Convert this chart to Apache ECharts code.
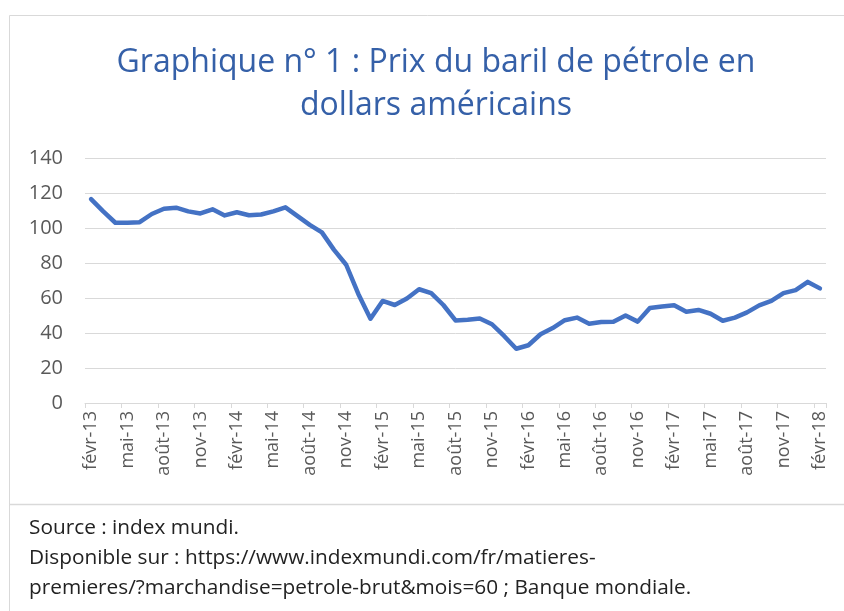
<!DOCTYPE html>
<html>
<head>
<meta charset="utf-8">
<script src="https://cdn.jsdelivr.net/npm/echarts@6/dist/echarts.min.js"></script>
<style>
html,body{margin:0;padding:0;background:#fff;}
#chart{width:844px;height:611px;}
</style>
</head>
<body>
<div id="chart"></div>
<script>
const categories = [
  'févr-13','mars-13','avr-13','mai-13','juin-13','juil-13','août-13','sept-13','oct-13','nov-13','déc-13',
  'janv-14','févr-14','mars-14','avr-14','mai-14','juin-14','juil-14','août-14','sept-14','oct-14','nov-14','déc-14',
  'janv-15','févr-15','mars-15','avr-15','mai-15','juin-15','juil-15','août-15','sept-15','oct-15','nov-15','déc-15',
  'janv-16','févr-16','mars-16','avr-16','mai-16','juin-16','juil-16','août-16','sept-16','oct-16','nov-16','déc-16',
  'janv-17','févr-17','mars-17','avr-17','mai-17','juin-17','juil-17','août-17','sept-17','oct-17','nov-17','déc-17',
  'janv-18','févr-18'
];
const prices = [
  116.5,109.5,103,103,103.3,108,111,111.6,109.5,108.3,110.7,
  107.2,109,107.3,107.7,109.5,111.8,106.8,101.8,97.5,87.5,79,62.3,
  48.2,58.3,56,59.7,65,62.8,56,47.2,47.6,48.3,45,38.3,
  31,33,39.3,42.8,47.3,48.8,45.3,46.3,46.4,50,46.5,54.3,
  55.2,55.8,52.2,53.2,51,47,48.8,51.8,55.8,58.3,62.8,64.5,
  69.2,65.5
];
const titleLines = ['Graphique n° 1 : Prix du baril de pétrole en', 'dollars américains'];
const sourceLines = [
  'Source : index mundi.',
  'Disponible sur : https://www.indexmundi.com/fr/matieres-',
  'premieres/?marchandise=petrole-brut&mois=60 ; Banque mondiale.'
];
const yTicks = {min: 0, max: 140, interval: 20};

const chart = echarts.init(document.getElementById('chart'), null, {renderer: 'canvas'});
const FONT = '"Open Sans", sans-serif';
chart.setOption({
  animation: false,
  backgroundColor: '#fff',
  title: {
    text: titleLines.join('\n'),
    left: 431,
    top: 36,
    textAlign: 'center',
    textStyle: {
      color: '#3560A8',
      fontFamily: FONT,
      fontWeight: 'normal',
      fontSize: 32,
      lineHeight: 43
    }
  },
  grid: {left: 85, right: 18, top: 158, bottom: 208, containLabel: false},
  xAxis: {
    type: 'category',
    data: categories,
    boundaryGap: true,
    axisLine: {lineStyle: {color: '#D9D9D9', width: 1}},
    axisTick: {show: true, interval: 2, length: 5, lineStyle: {color: '#D9D9D9'}},
    axisLabel: {
      interval: 2,
      rotate: 90,
      margin: 8,
      color: '#595959',
      fontFamily: FONT,
      fontSize: 18
    },
    splitLine: {show: false}
  },
  yAxis: {
    type: 'value',
    min: yTicks.min,
    max: yTicks.max,
    interval: yTicks.interval,
    axisLine: {show: false},
    axisTick: {show: false},
    axisLabel: {
      color: '#595959',
      fontFamily: FONT,
      fontSize: 20,
      margin: 22
    },
    splitLine: {lineStyle: {color: '#D9D9D9', width: 1}}
  },
  series: [{
    type: 'line',
    data: prices,
    showSymbol: false,
    symbol: 'none',
    lineStyle: {color: '#4472C4', width: 4.5, cap: 'round', join: 'round'},
    itemStyle: {color: '#4472C4'}
  }],
  graphic: [
    {type: 'rect', silent: true, z: -1,
     shape: {x: 9.5, y: 15.5, width: 900, height: 700},
     style: {fill: 'none', stroke: '#D9D9D9', lineWidth: 1}},
    {type: 'line', silent: true,
     shape: {x1: 9.5, y1: 504.5, x2: 844, y2: 504.5},
     style: {stroke: '#D9D9D9', lineWidth: 1.5}},
    {type: 'text', left: 29, top: 513,
     style: {text: sourceLines.join('\n'), fill: '#222', font: '20.8px ' + FONT, lineHeight: 30}}
  ]
});
</script>
</body>
</html>
